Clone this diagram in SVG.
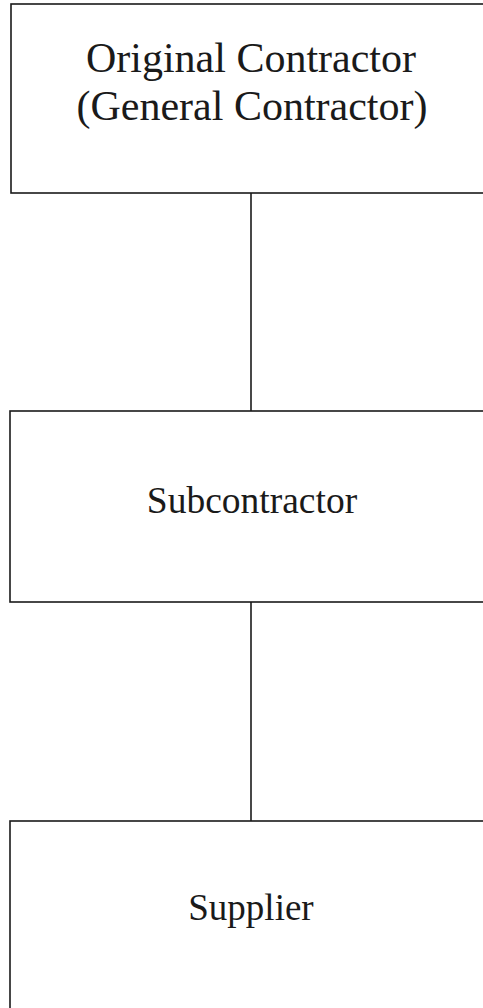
<svg xmlns="http://www.w3.org/2000/svg" width="483" height="1008" viewBox="0 0 483 1008">
  <style>
    .box { fill: #ffffff; stroke: #1a1a1a; stroke-width: 1.6; }
    .link { stroke: #1a1a1a; stroke-width: 1.6; fill: none; }
    .label { font-family: "Liberation Serif", "Times New Roman", serif; fill: #1a1a1a; text-anchor: middle; }
  </style>
  <rect width="483" height="1008" fill="#ffffff"/>

  <g id="connectors">
    <line class="link" x1="251" y1="193" x2="251" y2="411"/>
    <line class="link" x1="251" y1="602" x2="251" y2="821"/>
  </g>

  <g id="original-contractor">
    <rect class="box" x="11" y="4" width="485" height="189"/>
    <text class="label" x="251" y="72" font-size="42">Original Contractor</text>
    <text class="label" x="252" y="120" font-size="42">(General Contractor)</text>
  </g>

  <g id="subcontractor">
    <rect class="box" x="10" y="411" width="486" height="191"/>
    <text class="label" x="252" y="513" font-size="37.5">Subcontractor</text>
  </g>

  <g id="supplier">
    <rect class="box" x="10" y="821" width="486" height="200"/>
    <text class="label" x="251" y="920" font-size="37">Supplier</text>
  </g>
</svg>
